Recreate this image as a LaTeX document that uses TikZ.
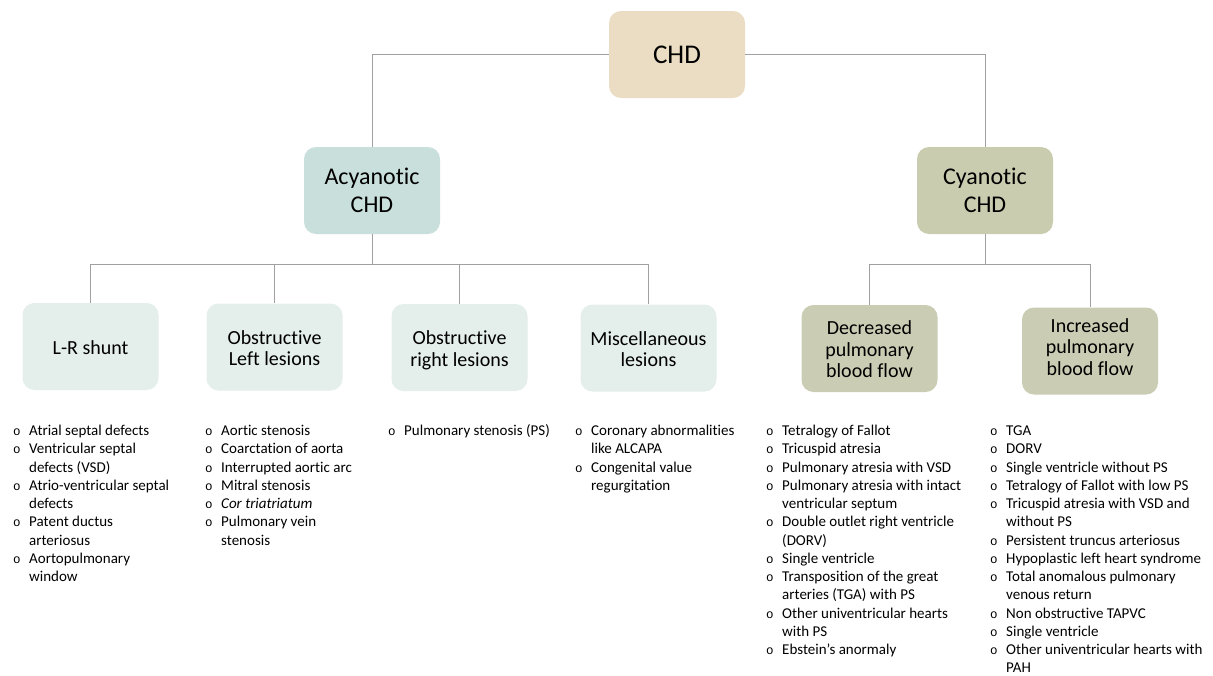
\documentclass[tikz,border=0pt]{standalone}
\usepackage{fontspec}
\setmainfont{Carlito}[Ligatures=NoCommon]
\newfontfamily\bulletfont{Liberation Mono}
\newcommand{\bl}{\makebox[16pt][l]{{\bulletfont\fontsize{12.5}{13}\selectfont o}}}
\newcommand{\ct}{\hspace*{16pt}}
\newcommand{\tstrut}{\rule{0pt}{22pt}}
\definecolor{chdfill}{HTML}{EBDDC3}
\definecolor{acyfill}{HTML}{C9DFDB}
\definecolor{tealfill}{HTML}{E4EEEB}
\definecolor{cyafill}{HTML}{CACCB0}
\definecolor{olivefill}{HTML}{CACDB3}
\definecolor{linegray}{HTML}{A0A0A0}
\begin{document}
\begin{tikzpicture}[x=1pt,y=1pt,
  box/.style={rounded corners=12pt, minimum width=136pt, minimum height=87pt,
    align=center, inner sep=0pt, text=black},
  topbox/.style={box, fill=chdfill, font=\fontsize{27}{30}\selectfont},
  midbox/.style={box, font=\fontsize{24}{28}\selectfont},
  lowbox/.style={box, font=\fontsize{20}{21.5}\selectfont},
  listnode/.style={anchor=north west, align=left, inner sep=0pt,
    font=\fontsize{15}{18.25}\selectfont},
  conn/.style={draw=linegray, line width=0.9pt}
]
\fill[white] (0,0) rectangle (1213,-675);
\useasboundingbox (0,0) rectangle (1213,-675);

% boxes
\node[topbox] (chd) at (677,-54.5) {CHD};
\node[midbox, fill=acyfill] (acy) at (372,-190.5) {Acyanotic\\CHD};
\node[midbox, fill=cyafill] (cya) at (985,-190.5) {Cyanotic\\CHD};

\node[lowbox, fill=tealfill] (lr) at (90.5,-346.5) {\tstrut L-R shunt\strut};
\node[lowbox, fill=tealfill] (ol) at (274.5,-347) {\tstrut Obstructive\\Left lesions\strut};
\node[lowbox, fill=tealfill] (or) at (459.5,-347.5) {\tstrut Obstructive\\right lesions\strut};
\node[lowbox, fill=tealfill] (misc) at (648.5,-348) {\tstrut Miscellaneous\\lesions\strut};
\node[lowbox, fill=olivefill] (dec) at (869.5,-348.5) {\tstrut Decreased\\pulmonary\\blood flow\strut};
\node[lowbox, fill=olivefill] (inc) at (1090,-351) {\tstrut Increased\\pulmonary\\blood flow\rule[-16.5pt]{0pt}{0pt}};

% connectors
\draw[conn] (chd.west) -| (acy.north);
\draw[conn] (chd.east) -| (cya.north);
\coordinate (ab) at (372,-264);
\coordinate (cb) at (985,-264);
\draw[conn] (acy.south) -- (ab);
\draw[conn] (ab) -| (lr.north);
\draw[conn] (ab) -| (ol.north);
\draw[conn] (ab) -| (or.north);
\draw[conn] (ab) -| (misc.north);
\draw[conn] (cya.south) -- (cb);
\draw[conn] (cb) -| (dec.north);
\draw[conn] (cb) -| (inc.north);

% lists
\node[listnode] (l1) at (13,-422.7) {\strut\bl Atrial septal defects\\
\bl Ventricular septal\\ \ct defects (VSD)\\
\bl Atrio-ventricular septal\\ \ct defects\\
\bl Patent ductus\\ \ct arteriosus\\
\bl Aortopulmonary\\ \ct window};

\node[listnode] (l2) at (205,-422.7) {\strut\bl Aortic stenosis\\
\bl Coarctation of aorta\\
\bl Interrupted aortic arc\\
\bl Mitral stenosis\\
\bl \textit{Cor triatriatum}\\
\bl Pulmonary vein\\ \ct stenosis};

\node[listnode] (l3) at (388,-422.7) {\strut\bl Pulmonary stenosis (PS)};

\node[listnode] (l4) at (575,-422.7) {\strut\bl Coronary abnormalities\\ \ct like ALCAPA\\
\bl Congenital value\\ \ct regurgitation};

\node[listnode] (l5) at (766,-422.7) {\strut\bl Tetralogy of Fallot\\
\bl Tricuspid atresia\\
\bl Pulmonary atresia with VSD\\
\bl Pulmonary atresia with intact\\ \ct ventricular septum\\
\bl Double outlet right ventricle\\ \ct (DORV)\\
\bl Single ventricle\\
\bl Transposition of the great\\ \ct arteries (TGA) with PS\\
\bl Other univentricular hearts\\ \ct with PS\\
\bl Ebstein’s anormaly};

\node[listnode] (l6) at (990,-422.7) {\strut\bl TGA\\
\bl DORV\\
\bl Single ventricle without PS\\
\bl Tetralogy of Fallot with low PS\\
\bl Tricuspid atresia with VSD and\\ \ct without PS\\
\bl Persistent truncus arteriosus\\
\bl Hypoplastic left heart syndrome\\
\bl Total anomalous pulmonary\\ \ct venous return\\
\bl Non obstructive TAPVC\\
\bl Single ventricle\\
\bl Other univentricular hearts with\\ \ct PAH};
\end{tikzpicture}
\end{document}
